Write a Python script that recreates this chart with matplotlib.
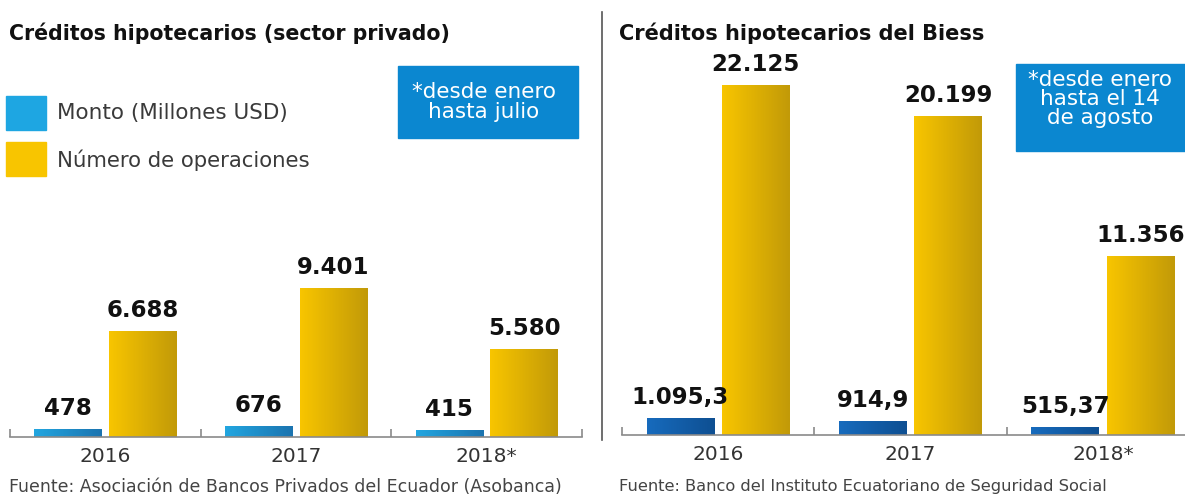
import matplotlib.pyplot as plt
import matplotlib.patches as mpatches
import matplotlib.colors as mcolors
import numpy as np

years = ['2016', '2017', '2018*']

priv_monto = [478, 676, 415]
priv_ops = [6688, 9401, 5580]
priv_monto_labels = ['478', '676', '415']
priv_ops_labels = ['6.688', '9.401', '5.580']

biess_monto = [1095.3, 914.9, 515.37]
biess_ops = [22125, 20199, 11356]
biess_monto_labels = ['1.095,3', '914,9', '515,37']
biess_ops_labels = ['22.125', '20.199', '11.356']

GOLD = ('#f8c500', '#c29a08')
LIGHT_BLUE = ('#22a6e0', '#1b74b0')
DARK_BLUE = ('#176bbd', '#0e4f92')


def gradient_bars(ax, x, heights, width, colors):
    cmap = mcolors.LinearSegmentedColormap.from_list('g', list(colors))
    grad = np.linspace(0, 1, 64).reshape(1, -1)
    bars = ax.bar(x, heights, width=width, color=colors[0], linewidth=0)
    for b in bars:
        im = ax.imshow(grad, cmap=cmap, aspect='auto',
                       extent=(b.get_x(), b.get_x() + b.get_width(), 0, b.get_height()),
                       zorder=b.get_zorder() + 0.1)
        im.set_clip_path(b)
    return bars


def panel(ax, monto, ops, monto_labels, ops_labels, blues):
    x = np.arange(len(years))
    w = 0.352
    off = 0.196
    gradient_bars(ax, x - off, monto, w, blues)
    gradient_bars(ax, x + off, ops, w, GOLD)
    for xs, vals, labs in [(x - off, monto, monto_labels), (x + off, ops, ops_labels)]:
        for xi, v, lab in zip(xs, vals, labs):
            ax.annotate(lab, (xi, v), xytext=(0, 6.5), textcoords='offset points',
                        ha='center', va='bottom', fontsize=16.5, fontweight='bold',
                        color='#111111')

    ax.set_xlim(-0.5, 2.5)
    ax.set_ylim(0, 23860)
    for s in ['top', 'right', 'left']:
        ax.spines[s].set_visible(False)
    ax.spines['bottom'].set_color('#8a8a8a')
    ax.spines['bottom'].set_linewidth(1.2)
    ax.set_yticks([])
    ax.set_xticks([-0.5, 0.5, 1.5, 2.5])
    ax.set_xticklabels([])
    ax.tick_params(axis='x', which='major', direction='in', length=6,
                   color='#8a8a8a', width=1.2)
    ax.set_xticks(x, minor=True)
    ax.set_xticklabels(years, minor=True, fontsize=14.5, color='#333333')
    ax.tick_params(axis='x', which='minor', length=0, pad=7)


def main():
    fig = plt.figure(figsize=(11.85, 4.96), dpi=100)
    W, H = 1185, 496

    ax1 = fig.add_axes([10 / W, 1 - 437 / H, 572 / W, 377 / H])
    panel(ax1, priv_monto, priv_ops, priv_monto_labels, priv_ops_labels, LIGHT_BLUE)

    ax2 = fig.add_axes([622 / W, 1 - 435 / H, 577 / W, 377 / H])
    panel(ax2, biess_monto, biess_ops, biess_monto_labels, biess_ops_labels, DARK_BLUE)

    # separator
    fig.add_artist(plt.Line2D([602 / W, 602 / W], [1 - 12 / H, 1 - 440 / H],
                              color='#555555', linewidth=1.2))

    # titles
    fig.text(9 / W, 1 - 33 / H, 'Créditos hipotecarios (sector privado)',
             fontsize=14.8, fontweight='bold', va='center', color='#111111')
    fig.text(619 / W, 1 - 33 / H, 'Créditos hipotecarios del Biess',
             fontsize=15, fontweight='bold', va='center', color='#111111')

    # legend
    fig.add_artist(mpatches.Rectangle((6 / W, 1 - 130 / H), 40 / W, 34 / H,
                                      transform=fig.transFigure, color='#1ea6e2'))
    fig.add_artist(mpatches.Rectangle((6 / W, 1 - 176 / H), 40 / W, 34 / H,
                                      transform=fig.transFigure, color='#f8c500'))
    fig.text(57 / W, 1 - 113 / H, 'Monto (Millones USD)', fontsize=15.5,
             va='center', color='#3a3a3a')
    fig.text(57 / W, 1 - 160 / H, 'Número de operaciones', fontsize=15.3,
             va='center', color='#3a3a3a')

    # note boxes
    fig.add_artist(mpatches.Rectangle((398 / W, 1 - 138 / H), 180 / W, 72 / H,
                                      transform=fig.transFigure, color='#0b87d0'))
    fig.text(484 / W, 1 - 102 / H, '*desde enero\nhasta julio', fontsize=15.5,
             ha='center', va='center', color='white', linespacing=1.05)
    fig.add_artist(mpatches.Rectangle((1016 / W, 1 - 151 / H), 180 / W, 87 / H,
                                      transform=fig.transFigure, color='#0b87d0'))
    fig.text(1100 / W, 1 - 99 / H, '*desde enero\nhasta el 14\nde agosto', fontsize=15.5,
             ha='center', va='center', color='white', linespacing=0.92)

    # sources
    fig.text(9 / W, 1 - 487 / H, 'Fuente: Asociación de Bancos Privados del Ecuador (Asobanca)',
             fontsize=12.5, va='center', color='#444444')
    fig.text(619 / W, 1 - 487 / H, 'Fuente: Banco del Instituto Ecuatoriano de Seguridad Social',
             fontsize=11.7, va='center', color='#444444')

    fig.savefig('out.png', dpi=100)


if __name__ == '__main__':
    main()
